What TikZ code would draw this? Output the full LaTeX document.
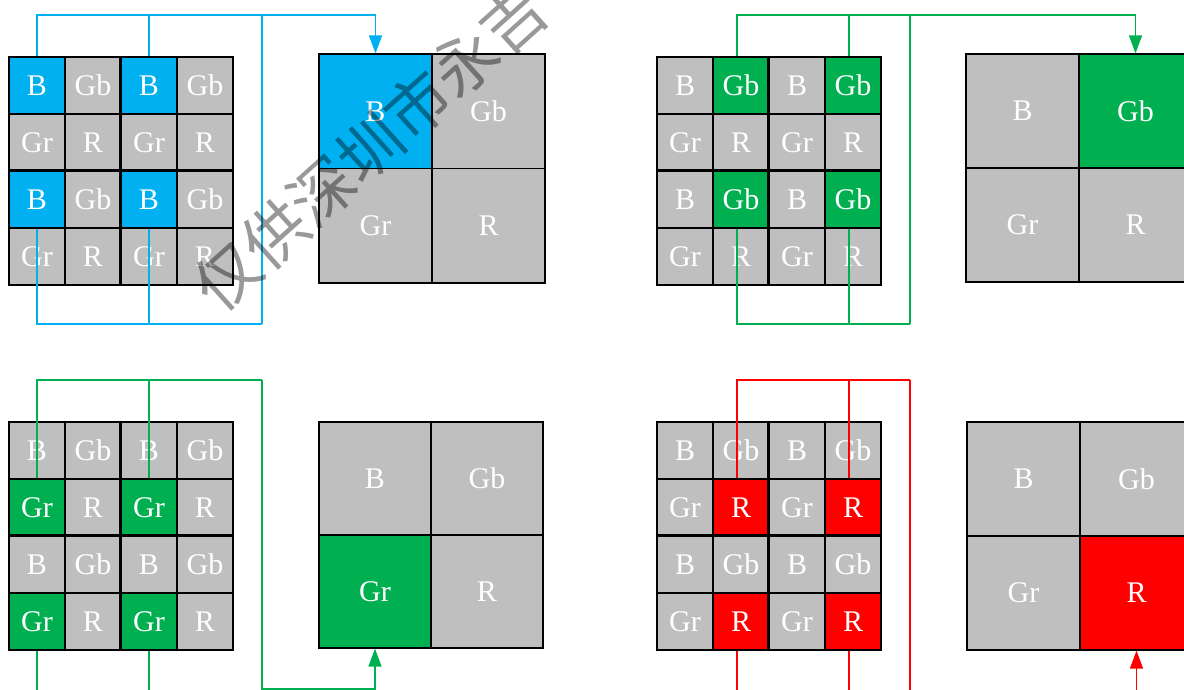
\documentclass[tikz,border=0pt]{standalone}
\usepackage{fontspec}
\setmainfont{Liberation Serif}
\newfontfamily\cjk{Noto Sans CJK SC}
\usetikzlibrary{arrows.meta}

\definecolor{cellgray}{HTML}{BFBFBF}
\definecolor{pixblue}{HTML}{00B0F0}
\definecolor{pixgreen}{HTML}{00B050}
\definecolor{pixred}{HTML}{FF0000}

\tikzset{
  cell/.style={draw=black, line width=1.2pt, inner sep=0pt, text=white,
    font=\fontsize{30}{30}\selectfont},
  blockline/.style={draw=black, line width=2.2pt},
  wire/.style={line width=1.3pt},
  feed/.style={wire, -{Triangle[length=18pt,width=13pt]}},
  watermark/.style={text=black, text opacity=0.4, inner sep=0pt,
    font=\cjk\fontsize{64}{64}\selectfont}
}

% label of a Bayer site from its row/column parity
\newcommand\bayerlabel[2]{\ifnum#1=0 \ifnum#2=0 B\else Gb\fi\else\ifnum#2=0 Gr\else R\fi\fi}

% 4x4 Bayer mosaic: name, left, top, highlighted row parity, column parity, colour
\newcommand\bayersmall[6]{%
  \foreach \r in {0,...,3}{
    \foreach \c in {0,...,3}{
      \pgfmathtruncatemacro\pr{mod(\r,2)}
      \pgfmathtruncatemacro\pc{mod(\c,2)}
      \def\cfill{cellgray}
      \ifnum\pr=#4 \ifnum\pc=#5 \def\cfill{#6}\fi\fi
      \node[cell, fill=\cfill, minimum width=56pt, minimum height=57pt]
        (#1-\r-\c) at ({#2+28+56*\c},{#3+28.5+57*\r}) {\bayerlabel{\pr}{\pc}};
    }
  }
  \draw[blockline] (#1-0-2.north west) -- (#1-3-2.south west);
  \draw[blockline] (#1-2-0.north west) -- (#1-2-3.north east);
}

% 2x2 binned pixel: name, left, top, cell width, cell height, row, column, colour
\newcommand\bayerbig[8]{%
  \foreach \r in {0,1}{
    \foreach \c in {0,1}{
      \def\cfill{cellgray}
      \ifnum\r=#6 \ifnum\c=#7 \def\cfill{#8}\fi\fi
      \node[cell, fill=\cfill, minimum width=#4pt, minimum height=#5pt]
        (#1-\r-\c) at ({#2+#4/2+#4*\c},{#3+#5/2+#5*\r}) {\bayerlabel{\r}{\c}};
    }
  }
}

\begin{document}
\begin{tikzpicture}[x=1pt, y=-1pt]
\useasboundingbox (0,0) rectangle (1184,689);

% ---- mosaics and binned pixels ----
\bayersmall{tl}{9}{57}{0}{0}{pixblue}
\bayerbig{TL}{319}{54}{113}{114.5}{0}{0}{pixblue}

\bayersmall{tr}{657}{57}{0}{1}{pixgreen}
\bayerbig{TR}{966}{54}{113}{114}{0}{1}{pixgreen}

\bayersmall{bl}{9}{422}{1}{0}{pixgreen}
\bayerbig{BL}{319}{422}{112}{113}{1}{0}{pixgreen}

\bayersmall{br}{657}{422}{1}{1}{pixred}
\bayerbig{BR}{967}{422}{113}{114}{1}{1}{pixred}

% ---- B channel ----
\coordinate (tlTop) at (262,15);
\coordinate (tlBot) at (262,324);
\begin{scope}[draw=pixblue, color=pixblue]
  \draw[wire] (tl-0-0.north) |- (tlTop);
  \draw[wire] (tl-0-2.north) |- (tlTop);
  \draw[wire] (tl-2-0.south) |- (tlBot);
  \draw[wire] (tl-2-2.south) |- (tlBot);
  \draw[feed] (tlBot) -- (tlTop) -| (TL-0-0.north);
\end{scope}

% ---- Gb channel ----
\coordinate (trTop) at (910,15);
\coordinate (trBot) at (910,324);
\begin{scope}[draw=pixgreen, color=pixgreen]
  \draw[wire] ([xshift=-4pt]tr-0-1.north) |- (trTop);
  \draw[wire] ([xshift=-4pt]tr-0-3.north) |- (trTop);
  \draw[wire] ([xshift=-4pt]tr-2-1.south) |- (trBot);
  \draw[wire] ([xshift=-4pt]tr-2-3.south) |- (trBot);
  \draw[feed] (trBot) -- (trTop) -| (TR-0-1.north);
\end{scope}

% ---- Gr channel ----
\coordinate (blTop) at (262,380);
\coordinate (blTurn) at (262,689);
\coordinate (blLow) at (262,694);
\begin{scope}[draw=pixgreen, color=pixgreen]
  \draw[wire] (bl-1-0.north) |- (blTop);
  \draw[wire] (bl-1-2.north) |- (blTop);
  \draw[wire] (bl-3-0.south) |- (blLow);
  \draw[wire] (bl-3-2.south) |- (blLow);
  \draw[feed] (blTop) -- (blTurn) -| (BL-1-0.south);
\end{scope}

% ---- R channel ----
\coordinate (brTop) at (910,380);
\coordinate (brLow) at (910,694);
\coordinate (brIn) at (BR-1-1.south |- brLow);
\begin{scope}[draw=pixred, color=pixred]
  \draw[wire] ([xshift=-4pt]br-1-1.north) |- (brTop);
  \draw[wire] ([xshift=-4pt]br-1-3.north) |- (brTop);
  \draw[wire] ([xshift=-4pt]br-3-1.south) |- (brLow);
  \draw[wire] ([xshift=-4pt]br-3-3.south) |- (brLow);
  \draw[wire] (brTop) -- (brLow);
  \draw[feed] (brIn) -- (BR-1-1.south);
\end{scope}

% ---- watermark ----
\node[watermark, rotate=42] (wm) at (370,148) {仅供深圳市永吉};
\end{tikzpicture}
\end{document}
